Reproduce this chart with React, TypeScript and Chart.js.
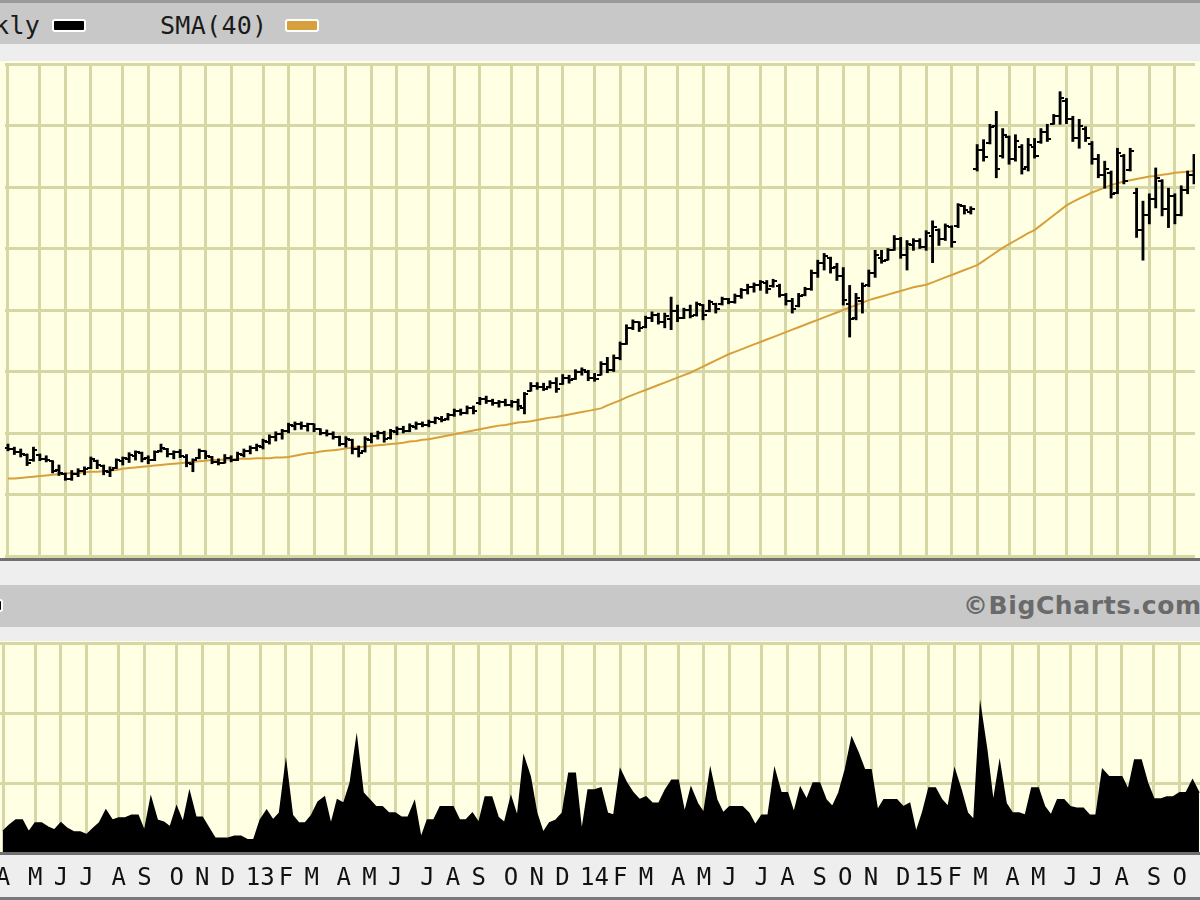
import React, { useEffect, useRef } from 'react';
import { Chart, registerables } from 'chart.js';

Chart.register(...registerables);

// Month tick labels (first week of each month) and number of weekly bars in each month
const monthLabels = ['A','M','J','J','A','S','O','N','D','13','F','M','A','M','J','J','A','S','O','N','D','14','F','M','A','M','J','J','A','S','O','N','D','15','F','M','A','M','J','J','A','S','O'];
const weeksPerMonth = [5,4,4,5,4,5,4,4,5, 4,4,5,4,4,5,4,4,5,4,4,5, 4,4,5,4,4,5,4,5,4,4,5,4, 4,4,5,4,5,4,4,5,4,4];

// Weekly OHLC (price units, grid every 10)
const openP = [17.6,17.4,16.9,16.4,15.6,16.5,15.8,15.4,14.0,13.4,
 12.6,13.3,13.8,14.3,15.5,14.7,13.6,14.3,15.5,15.8,
 16.2,16.8,15.9,15.6,17.0,17.4,16.6,16.9,16.1,15.0,
 15.9,17.0,16.1,15.3,15.2,16.0,15.6,16.5,17.1,17.5,
 17.8,18.6,19.3,19.8,20.3,21.2,21.5,21.1,21.4,20.6,
 20.0,19.8,19.3,18.2,18.8,17.4,17.0,18.9,19.5,20.0,
 19.2,20.2,20.6,20.3,21.0,21.4,21.3,21.8,22.3,22.2,
 22.9,23.5,23.2,24.0,24.8,25.5,25.2,24.8,25.0,24.6,
 25.1,24.0,26.9,27.7,27.4,27.4,28.1,28.0,29.0,28.8,
 29.9,30.0,29.0,29.5,31.2,30.3,32.2,34.5,37.0,38.0,
 37.2,38.7,39.2,38.1,38.5,39.8,38.7,40.0,39.2,40.8,
 39.8,41.0,40.9,41.8,41.3,42.2,43.2,43.7,44.0,44.4,
 43.9,43.9,42.4,41.4,40.6,42.4,43.4,46.0,47.6,48.5,
 47.0,45.5,41.0,38.7,41.5,44.0,46.0,48.5,48.2,49.8,
 51.5,49.0,50.5,51.2,50.3,52.0,53.0,51.5,53.5,53.6,
 56.9,56.0,62.9,66.0,67.2,70.0,65.0,68.2,64.5,66.5,
 63.2,66.5,67.3,69.0,70.3,71.5,74.0,71.0,68.0,69.5,
 67.0,64.5,62.0,62.3,59.0,65.0,62.8,59.0,53.0,55.5,
 58.0,61.0,56.5,58.5,55.5,59.5,62.0];

const highP = [18.2,17.7,17.4,16.6,17.7,16.6,16.3,15.5,14.8,13.5,
 13.9,14.2,14.5,16.1,15.6,14.8,14.5,15.8,16.1,16.8,
 17.1,16.9,16.3,17.1,18.2,17.5,17.1,17.3,16.5,15.8,
 17.4,17.1,16.2,15.8,16.5,16.3,16.9,17.4,17.9,18.2,
 19.0,19.7,20.2,20.6,21.6,21.8,21.8,21.6,21.5,20.7,
 20.5,20.2,19.5,19.4,19.0,17.9,19.4,20.0,20.3,20.3,
 20.6,21.0,21.1,21.5,21.8,21.8,22.1,22.6,22.7,23.2,
 23.9,23.9,24.4,24.4,25.8,26.0,25.5,25.3,25.5,25.3,
 25.5,26.6,28.2,28.2,28.1,28.5,29.0,29.5,29.4,30.3,
 30.6,30.2,29.7,31.6,32.3,32.7,34.8,37.6,38.4,38.1,
 39.0,39.7,39.5,39.5,42.1,40.8,40.3,40.8,41.3,40.9,
 41.6,41.1,42.1,41.9,42.6,43.5,44.2,44.4,44.8,44.8,
 45.0,44.2,42.7,41.9,42.7,43.7,46.5,48.1,49.2,48.6,
 47.6,46.9,44.0,42.7,44.4,46.5,49.7,49.7,50.0,52.1,
 51.8,51.3,51.6,51.6,52.9,54.5,53.2,54.0,53.7,57.3,
 57.0,56.8,66.9,67.7,70.2,72.3,69.5,68.3,68.5,66.9,
 67.9,67.9,69.5,70.2,71.8,75.5,74.4,71.5,71.0,69.8,
 67.4,65.3,64.2,62.6,66.3,65.3,66.3,59.8,57.7,58.9,
 63.1,61.2,59.8,58.9,60.2,62.6,65.3];

const lowP = [17.1,16.5,16.1,14.7,15.4,15.5,15.3,13.5,13.1,12.3,
 12.3,12.9,13.2,14.2,14.2,13.2,12.9,14.2,14.8,15.2,
 15.6,15.3,15.0,15.5,16.9,16.1,15.8,16.0,14.5,13.7,
 15.8,15.8,15.0,14.8,15.1,15.3,15.5,16.1,16.6,17.1,
 17.4,18.2,18.7,19.0,20.0,20.5,20.6,20.3,20.2,19.7,
 19.5,19.0,17.9,17.7,16.6,16.1,16.9,18.4,19.0,18.5,
 19.0,19.7,20.0,20.2,20.6,21.0,21.0,21.5,21.8,22.1,
 22.7,22.9,23.1,23.1,24.6,24.8,24.5,24.2,24.4,24.2,
 23.7,23.1,26.8,27.1,26.9,27.3,26.6,27.9,28.1,28.7,
 29.4,28.5,28.4,29.4,29.8,30.0,31.9,34.4,36.8,36.5,
 37.1,38.1,37.7,37.1,36.8,38.1,38.6,38.7,39.0,38.4,
 39.7,39.5,40.8,41.0,41.1,41.9,42.6,42.9,43.2,42.7,
 43.7,42.1,40.8,39.5,40.5,42.3,43.2,45.3,46.5,46.0,
 44.8,40.8,35.6,38.4,39.5,43.8,45.3,47.6,48.1,49.7,
 48.4,46.5,49.7,50.0,49.7,47.7,50.5,51.3,50.2,53.4,
 55.6,55.6,62.6,64.2,67.0,61.5,64.7,63.7,64.2,62.1,
 62.6,64.7,67.1,67.4,70.2,70.2,70.3,67.4,66.3,67.4,
 63.7,61.5,59.8,58.2,58.9,60.5,62.6,51.8,48.1,54.0,
 56.6,55.3,53.4,54.0,55.3,58.9,60.5];

const closeP = [17.4,16.9,16.6,15.2,17.2,15.8,15.6,13.9,13.5,12.6,
 13.4,13.9,14.1,15.8,14.8,13.8,14.0,15.6,15.9,16.4,
 16.9,15.8,15.6,16.9,17.6,16.6,16.9,16.3,15.2,15.6,
 17.1,16.3,15.3,15.1,16.0,15.6,16.6,17.1,17.6,17.9,
 18.7,19.4,19.8,20.3,21.3,21.5,21.1,21.4,20.6,20.0,
 19.8,19.3,18.2,19.0,17.4,16.8,19.0,19.5,20.0,19.0,
 20.3,20.6,20.3,21.1,21.5,21.3,21.8,22.4,22.1,22.9,
 23.5,23.2,24.0,23.5,25.5,25.2,24.8,25.0,24.6,25.1,
 24.4,26.3,27.7,27.4,27.2,28.2,27.1,29.0,28.6,30.0,
 30.2,29.0,28.7,31.3,30.2,32.2,34.5,37.1,38.0,37.0,
 38.7,39.2,38.1,39.0,39.8,38.7,40.0,39.0,41.0,39.2,
 41.3,40.2,41.8,41.3,42.3,43.2,43.7,44.0,44.5,43.4,
 44.7,42.4,41.4,40.2,42.3,43.4,46.0,47.6,48.7,46.8,
 45.5,41.6,38.5,41.9,43.9,46.0,49.0,48.0,49.7,51.5,
 49.0,50.8,51.2,50.3,52.5,53.5,51.5,53.7,51.0,57.0,
 56.2,56.4,66.0,64.8,69.8,63.0,68.5,64.5,67.5,63.0,
 66.8,65.0,69.0,67.8,71.5,74.5,71.0,68.0,70.0,68.0,
 64.5,62.0,63.0,58.8,65.5,61.0,65.8,53.0,55.5,58.0,
 61.5,56.5,58.5,55.5,59.5,62.0,64.5];

// 40-week simple moving average
const sma40 = [12.6,12.6,12.7,12.8,12.9,13.0,13.1,13.2,13.3,13.4,
 13.5,13.5,13.6,13.7,13.7,13.8,13.9,14.0,14.2,14.3,
 14.4,14.5,14.6,14.7,14.8,14.9,15.0,15.1,15.2,15.3,
 15.4,15.5,15.6,15.6,15.7,15.7,15.8,15.8,15.8,15.9,
 15.9,15.9,16.0,16.0,16.1,16.3,16.5,16.7,16.8,17.0,
 17.1,17.2,17.3,17.5,17.6,17.7,17.8,17.9,18.0,18.1,
 18.2,18.3,18.4,18.6,18.7,18.9,19.0,19.2,19.4,19.6,
 19.8,20.0,20.2,20.4,20.6,20.8,21.0,21.2,21.3,21.5,
 21.7,21.8,21.9,22.1,22.3,22.5,22.6,22.8,23.0,23.2,
 23.4,23.6,23.8,24.0,24.5,24.9,25.3,25.8,26.2,26.6,
 27.0,27.4,27.8,28.2,28.6,29.0,29.4,29.8,30.3,30.8,
 31.3,31.8,32.3,32.8,33.2,33.6,34.0,34.4,34.8,35.2,
 35.6,36.0,36.4,36.8,37.2,37.6,38.0,38.4,38.8,39.2,
 39.6,40.0,40.4,40.8,41.2,41.6,41.9,42.2,42.5,42.8,
 43.1,43.4,43.7,43.9,44.1,44.5,44.9,45.3,45.7,46.1,
 46.5,46.9,47.3,48.0,48.7,49.4,50.1,50.7,51.3,51.9,
 52.5,53.0,53.8,54.6,55.4,56.2,57.0,57.6,58.1,58.6,
 59.1,59.5,59.9,60.3,60.6,60.9,61.1,61.3,61.5,61.7,
 61.8,62.0,62.1,62.3,62.4,62.5,62.6];

// Weekly volume (grid every 10)
const volume = [3.1,4.0,4.7,4.7,3.0,4.3,4.3,3.7,3.3,4.3,
 3.5,3.0,3.0,2.6,3.5,4.3,6.1,4.7,5.0,5.0,
 5.4,5.4,3.1,7.9,4.7,4.4,3.7,6.6,4.3,8.7,
 5.1,5.1,3.6,2.1,2.1,2.1,2.4,2.4,1.9,1.9,
 4.7,6.1,4.7,5.7,12.9,5.4,4.3,4.3,5.4,7.3,
 8.0,4.0,7.6,7.1,10.0,16.4,8.6,7.6,6.6,6.6,
 5.7,5.7,5.1,5.1,7.3,2.1,4.7,4.7,6.6,6.6,
 6.6,4.7,4.7,5.7,4.3,8.0,8.0,5.1,4.3,8.0,
 5.1,13.7,10.9,5.7,2.9,4.3,4.7,5.7,11.4,11.4,
 2.9,9.0,9.0,9.3,5.7,5.4,11.9,10.0,8.6,7.6,
 8.0,7.1,7.1,9.0,10.4,10.4,5.7,9.3,7.1,5.7,
 11.9,7.6,5.7,6.6,6.6,6.6,5.7,4.0,5.4,5.4,
 11.9,8.6,8.6,5.7,9.3,7.6,10.0,10.0,7.6,6.6,
 8.6,11.9,16.4,14.3,11.9,11.9,6.1,7.6,7.6,7.6,
 6.6,7.1,2.9,5.7,9.3,9.3,7.6,6.6,11.9,9.0,
 5.7,4.7,20.9,14.7,7.1,12.9,7.1,5.7,5.7,5.4,
 9.3,9.3,6.6,5.4,7.6,7.6,6.6,6.4,6.4,5.4,
 5.4,11.9,10.9,10.9,10.9,9.0,13.3,13.3,10.0,7.7,
 7.7,8.0,8.0,8.6,8.6,10.4,8.6];

const PANEL_BG = '#ffffe4';
const GRID = '#d7d7a6';
const SMA_COLOR = '#d8a03c';

export default function App() {
  const priceRef = useRef<HTMLCanvasElement>(null);
  const volRef = useRef<HTMLCanvasElement>(null);

  useEffect(() => {
    document.body.style.margin = '0';
    const monthStarts: number[] = [];
    let acc = 0;
    weeksPerMonth.forEach((w) => { monthStarts.push(acc); acc += w; });
    const xMin = -0.467;
    const xMax = 186.16;

    const mkTick = (left: boolean) => {
      const c = document.createElement('canvas');
      c.width = 8; c.height = 2;
      const g = c.getContext('2d')!;
      g.fillStyle = '#000';
      g.fillRect(left ? 0 : 4, 0, 4, 2);
      return c;
    };

    const xScale = (labels: boolean): any => ({
      type: 'linear',
      min: xMin,
      max: xMax,
      offset: false,
      afterBuildTicks: (s: any) => { s.ticks = monthStarts.map((v) => ({ value: v })); },
      afterFit: (s: any) => { s.paddingLeft = 0; s.paddingRight = 0; if (labels) s.height = 47; },
      grid: { color: GRID, lineWidth: 3, drawTicks: false, offset: false },
      border: { display: false },
      ticks: labels ? {
        display: true,
        autoSkip: false,
        maxRotation: 0,
        padding: 11,
        color: '#111',
        font: { family: '"DejaVu Sans Mono", monospace', size: 24 },
        callback: (_v: any, i: number) => monthLabels[i],
      } : { display: false },
    });

    const yScale = (max: number): any => ({
      type: 'linear',
      min: 0,
      max,
      grid: { color: GRID, lineWidth: 3, drawTicks: false },
      border: { display: false },
      ticks: { display: false, stepSize: 10 },
    });

    const idx = closeP.map((_, i) => i);

    const price = new Chart(priceRef.current!, {
      type: 'bar',
      data: {
        datasets: [
          {
            type: 'line',
            data: idx.map((i) => ({ x: i, y: sma40[i] })),
            borderColor: SMA_COLOR,
            borderWidth: 2,
            pointRadius: 0,
            order: 3,
          } as any,
          {
            type: 'bar',
            data: idx.map((i) => ({ x: i, y: [lowP[i], highP[i]] })),
            backgroundColor: '#000',
            barThickness: 2.2,
            borderWidth: 0,
            order: 2,
          } as any,
          {
            type: 'line',
            data: idx.map((i) => ({ x: i, y: openP[i] })),
            showLine: false,
            pointStyle: mkTick(true),
            pointRadius: 4,
            order: 1,
          } as any,
          {
            type: 'line',
            data: idx.map((i) => ({ x: i, y: closeP[i] })),
            showLine: false,
            pointStyle: mkTick(false),
            pointRadius: 4,
            order: 0,
          } as any,
        ],
      },
      options: {
        responsive: false,
        animation: false,
        events: [],
        layout: { padding: { top: 3, bottom: 3, left: 0, right: 0 } },
        plugins: { legend: { display: false }, tooltip: { enabled: false } },
        scales: { x: xScale(false), y: yScale(80) },
      } as any,
    });

    const vol = new Chart(volRef.current!, {
      type: 'line',
      data: {
        datasets: [
          {
            data: idx.map((i) => ({ x: i, y: volume[i] })),
            fill: 'origin',
            tension: 0,
            backgroundColor: '#000',
            borderColor: '#000',
            borderWidth: 1.5,
            pointRadius: 0,
          } as any,
        ],
      },
      options: {
        responsive: false,
        animation: false,
        events: [],
        layout: { padding: { top: 3, bottom: 0, left: 0, right: 0 } },
        plugins: { legend: { display: false }, tooltip: { enabled: false } },
        scales: { x: xScale(true), y: yScale(30) },
      } as any,
    });

    return () => { price.destroy(); vol.destroy(); };
  }, []);

  const abs = (s: React.CSSProperties): React.CSSProperties => ({ position: 'absolute', ...s });
  const swatch = (left: number, top: number, color: string): React.CSSProperties => abs({
    left, top, width: 34, height: 13, background: color, border: '2px solid #fff',
    borderRadius: 3, boxSizing: 'border-box',
  });
  const mono = '"DejaVu Sans Mono", monospace';

  return (
    <div style={{ position: 'fixed', left: 0, top: 0, width: 1200, height: 900, overflow: 'hidden', background: '#eeeeee' }}>
      {/* top header band */}
      <div style={abs({ left: 0, top: 0, width: 1200, height: 3, background: '#9a9a9a' })} />
      <div style={abs({ left: 0, top: 3, width: 1200, height: 41, background: '#c8c8c8' })} />
      <div style={abs({ left: -52, top: 8, height: 36, lineHeight: '36px', fontFamily: mono, fontSize: 25, letterSpacing: 0.3, color: '#1a1a1a', whiteSpace: 'nowrap' })}>Weekly</div>
      <div style={swatch(52, 19, '#000')} />
      <div style={abs({ left: 160, top: 8, height: 36, lineHeight: '36px', fontFamily: mono, fontSize: 25, letterSpacing: 0.3, color: '#1a1a1a', whiteSpace: 'nowrap' })}>SMA(40)</div>
      <div style={swatch(285, 19, SMA_COLOR)} />

      {/* price panel */}
      <div style={abs({ left: 0, top: 61, width: 1200, height: 497, background: PANEL_BG })} />
      <canvas ref={priceRef} width={1200} height={502} style={abs({ left: 0, top: 59, width: 1200, height: 502 })} />
      <div style={abs({ left: 0, top: 558, width: 1200, height: 3, background: '#707070' })} />

      {/* middle band */}
      <div style={abs({ left: 0, top: 585, width: 1200, height: 42, background: '#c8c8c8' })} />
      <div style={swatch(-31, 599, '#000')} />
      <div style={abs({ left: 963, top: 585, height: 42, lineHeight: '42px', fontFamily: '"DejaVu Sans", sans-serif', fontWeight: 'bold', fontSize: 25, letterSpacing: 0.6, color: '#6a6a6a', whiteSpace: 'nowrap' })}>©BigCharts.com</div>

      {/* volume panel */}
      <div style={abs({ left: 0, top: 641, width: 1200, height: 212, background: PANEL_BG })} />
      <canvas ref={volRef} width={1200} height={260} style={abs({ left: 0, top: 640, width: 1200, height: 260 })} />
      <div style={abs({ left: 0, top: 852, width: 1200, height: 3, background: '#707070' })} />
      <div style={abs({ left: 0, top: 897, width: 1200, height: 3, background: '#7a7a7a' })} />
    </div>
  );
}
